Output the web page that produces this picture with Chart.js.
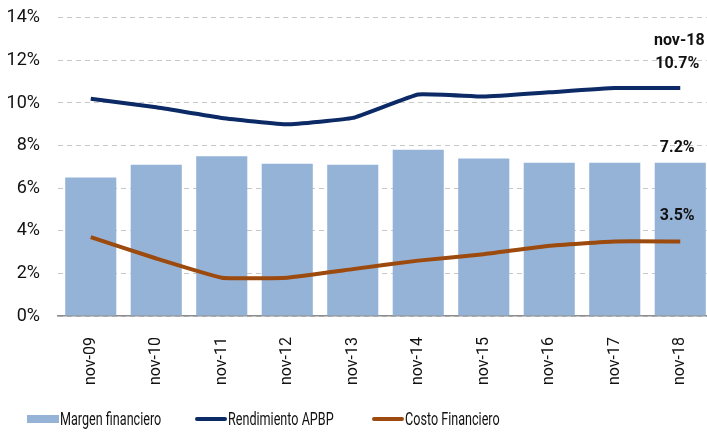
<!DOCTYPE html>
<html>
<head>
<meta charset="utf-8">
<script src="https://cdn.jsdelivr.net/npm/chart.js@4/dist/chart.umd.min.js"></script>
<style>
  html, body { margin: 0; padding: 0; background: #fff; overflow: hidden; }
  body { position: relative; width: 707px; height: 432px; }
  #wrap { position: absolute; left: 0; top: -11px; width: 713px; height: 443px; }
  .lg { position: absolute; top: 408px; height: 22px; font: 18px Roboto, sans-serif; color: #111; }
  .lg .key { position: absolute; top: 7px; }
  .lg .txt { position: absolute; top: 0; white-space: nowrap; transform: scaleX(0.7); transform-origin: 0 0; line-height: 22px; }
</style>
</head>
<body>
<div id="wrap"><canvas id="chart"></canvas></div>
<div id="legend"></div>
<script>
const categories  = ['nov-09', 'nov-10', 'nov-11', 'nov-12', 'nov-13', 'nov-14', 'nov-15', 'nov-16', 'nov-17', 'nov-18'];
const margen      = [6.5, 7.1, 7.5, 7.15, 7.1, 7.8, 7.4, 7.2, 7.2, 7.2];
const rendimiento = [10.2, 9.8, 9.3, 9.0, 9.3, 10.4, 10.3, 10.5, 10.7, 10.7];
const costo       = [3.7, 2.7, 1.8, 1.8, 2.2, 2.6, 2.9, 3.3, 3.5, 3.5];
const yTicks      = [0, 2, 4, 6, 8, 10, 12, 14];

const FONT = 'Roboto, sans-serif';
const BAR  = '#95b3d7';
const NAVY = '#0b2a66';
const RUST = '#9c4a0e';

// last-point labels: "nov-18", 10.7%, 7.2%, 3.5%
const endLabels = {
  id: 'endLabels',
  afterDatasetsDraw(chart) {
    const { ctx } = chart;
    const last = categories.length - 1;
    ctx.save();
    ctx.font = 'bold 16px ' + FONT;
    ctx.fillStyle = '#111';
    ctx.textAlign = 'center';
    ctx.textBaseline = 'middle';
    const bar  = chart.getDatasetMeta(0).data[last];
    const rend = chart.getDatasetMeta(1).data[last];
    const cost = chart.getDatasetMeta(2).data[last];
    const x = rend.x - 3;
    ctx.fillText(categories[last], x + 2, rend.y - 47);
    ctx.fillText(rendimiento[last].toFixed(1) + '%', x, rend.y - 24);
    ctx.fillText(margen[last].toFixed(1) + '%', x, bar.y - 15);
    ctx.fillText(costo[last].toFixed(1) + '%', x, cost.y - 25);
    ctx.restore();
  }
};

const chart = new Chart(document.getElementById('chart'), {
  type: 'bar',
  data: {
    labels: categories,
    datasets: [
      {
        type: 'bar',
        label: 'Margen financiero',
        data: margen,
        backgroundColor: BAR,
        barPercentage: 0.78,
        categoryPercentage: 1,
        order: 3,
      },
      {
        type: 'line',
        label: 'Rendimiento APBP',
        data: rendimiento,
        borderColor: NAVY,
        backgroundColor: NAVY,
        borderWidth: 4,
        pointRadius: 0,
        tension: 0.1,
        order: 1,
      },
      {
        type: 'line',
        label: 'Costo Financiero',
        data: costo,
        borderColor: RUST,
        backgroundColor: RUST,
        borderWidth: 4,
        pointRadius: 0,
        tension: 0.1,
        order: 2,
      }
    ]
  },
  options: {
    responsive: true,
    maintainAspectRatio: false,
    animation: false,
    layout: { padding: { top: 0, bottom: 34, left: 0, right: 0 } },
    plugins: {
      tooltip: { enabled: false },
      legend: { display: false }
    },
    scales: {
      x: {
        offset: true,
        grid: { display: false },
        border: { color: '#8c8c8c', width: 1.5 },
        ticks: {
          color: '#111',
          font: { family: FONT, size: 16 },
          minRotation: 90,
          maxRotation: 90,
          padding: 13,
        }
      },
      y: {
        min: 0,
        max: 14,
        afterFit(scale) { scale.width = 58; },
        afterBuildTicks(scale) { scale.ticks = yTicks.map(v => ({ value: v })); },
        grid: {
          color: '#c8c8c8',
          lineWidth: 1,
          drawTicks: false,
        },
        border: { display: false, dash: [5, 4] },
        ticks: {
          color: '#111',
          font: { family: FONT, size: 18 },
          padding: 18,
          callback: v => v + '%',
        }
      }
    }
  },
  plugins: [endLabels]
});

// legend built from the datasets
const legendPos = [27, 195, 372];
const legendEl = document.getElementById('legend');
chart.data.datasets.forEach((ds, i) => {
  const item = document.createElement('div');
  item.className = 'lg';
  item.style.left = legendPos[i] + 'px';
  const key = document.createElement('span');
  key.className = 'key';
  key.style.left = '0px';
  key.style.width = '32px';
  if (ds.type === 'line') {
    key.style.top = '9px';
    key.style.height = '4px';
    key.style.borderRadius = '2px';
    key.style.background = ds.borderColor;
  } else {
    key.style.top = '7px';
    key.style.height = '8px';
    key.style.background = ds.backgroundColor;
  }
  const txt = document.createElement('span');
  txt.className = 'txt';
  txt.style.left = '33px';
  txt.textContent = ds.label;
  item.appendChild(key);
  item.appendChild(txt);
  legendEl.appendChild(item);
});
</script>
</body>
</html>
